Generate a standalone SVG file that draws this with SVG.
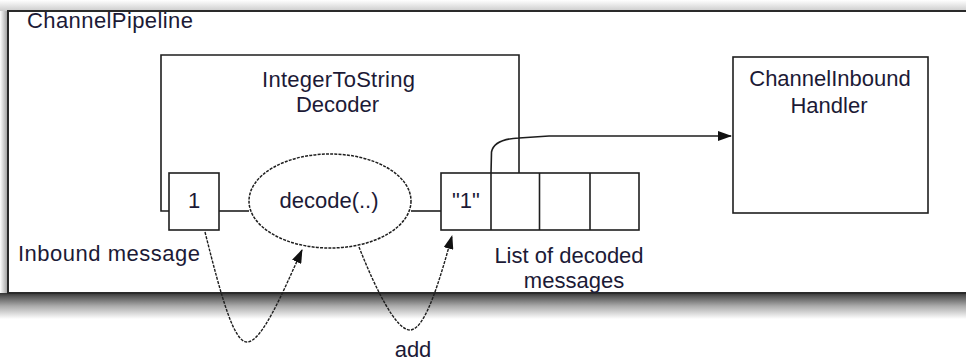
<svg xmlns="http://www.w3.org/2000/svg" width="966" height="361" viewBox="0 0 966 361">
<style>
.box{fill:#fff;stroke:#1e1e1e;stroke-width:1.6}
.ln{fill:none;stroke:#1e1e1e;stroke-width:1.6}
.dash{fill:none;stroke:#1e1e1e;stroke-width:1.4;stroke-dasharray:3 1.2}
.t{font-family:"Liberation Sans",Arial,sans-serif;font-size:22px;fill:#1c1a36}
.m{text-anchor:middle}
</style>
<defs>
<marker id="ah" markerWidth="14" markerHeight="10" refX="13" refY="5" orient="auto" markerUnits="userSpaceOnUse">
<path d="M0,0 L14,5 L0,10 Z" fill="#111"/>
</marker>
<linearGradient id="sb" x1="0" y1="0" x2="0" y2="1">
<stop offset="0" stop-color="#333"/>
<stop offset="0.12" stop-color="#555"/>
<stop offset="0.5" stop-color="#aaa"/>
<stop offset="1" stop-color="#fff"/>
</linearGradient>
<linearGradient id="sl" x1="0" y1="0" x2="1" y2="0">
<stop offset="0" stop-color="#fff"/>
<stop offset="1" stop-color="#999"/>
</linearGradient>
<linearGradient id="st" x1="0" y1="0" x2="0" y2="1">
<stop offset="0" stop-color="#fff"/>
<stop offset="1" stop-color="#ccc"/>
</linearGradient>
</defs>
<rect width="966" height="361" fill="#fff"/>
<g id="pipeline">
<rect x="0" y="0" width="966" height="11" fill="url(#st)"/>
<rect x="0" y="11" width="8" height="284" fill="url(#sl)"/>
<rect x="0" y="293" width="966" height="26" fill="url(#sb)"/>
<rect x="8" y="11" width="972" height="282" fill="#fff" stroke="#2a2a2a" stroke-width="2"/>
<text class="t" x="27" y="28" textLength="166" lengthAdjust="spacing">ChannelPipeline</text>
</g>
<g id="decoder">
<path class="ln" d="M169,211 H161 V55 H519 V173"/>
<text class="t m" x="338.5" y="87" textLength="153" lengthAdjust="spacing">IntegerToString</text>
<text class="t m" x="337.5" y="112">Decoder</text>
</g>
<g id="inbound-message">
<rect class="box" x="169" y="173" width="50" height="57"/>
<text class="t m" x="194" y="208">1</text>
<text class="t" x="18" y="261" textLength="182" lengthAdjust="spacing">Inbound message</text>
</g>
<g id="decode">
<ellipse cx="330" cy="201" rx="81" ry="47" fill="#fff" stroke="#1e1e1e" stroke-width="1.5" stroke-dasharray="3 1.2"/>
<text class="t m" x="329" y="208">decode(..)</text>
</g>
<g id="decoded-list">
<rect class="box" x="441" y="173" width="198" height="57"/>
<line class="ln" x1="491" y1="173" x2="491" y2="230"/>
<line class="ln" x1="539.5" y1="173" x2="539.5" y2="230"/>
<line class="ln" x1="590" y1="173" x2="590" y2="230"/>
<text class="t m" x="466" y="208">"1"</text>
<text class="t m" x="569" y="263">List of decoded</text>
<text class="t m" x="574" y="288">messages</text>
</g>
<g id="handler">
<rect class="box" x="733" y="57" width="195" height="156"/>
<text class="t m" x="830" y="86">ChannelInbound</text>
<text class="t m" x="829" y="113">Handler</text>
</g>
<g id="connectors">
<line class="ln" x1="219" y1="211" x2="249" y2="211"/>
<line class="ln" x1="411" y1="211" x2="441" y2="211"/>
<path class="ln" d="M491,173 L491.5,152 Q494,139 519,138 L549,136 L672,136 L731,136" marker-end="url(#ah)"/>
<path class="dash" d="M205,232 C222,300 234,342 247,342 C262,342 283,292 302,250" marker-end="url(#ah)"/>
<path class="dash" d="M359,247 C376,290 396,330 410,330 C426,330 441,275 452,236" marker-end="url(#ah)"/>
<text class="t m" x="413" y="357">add</text>
</g>
</svg>
